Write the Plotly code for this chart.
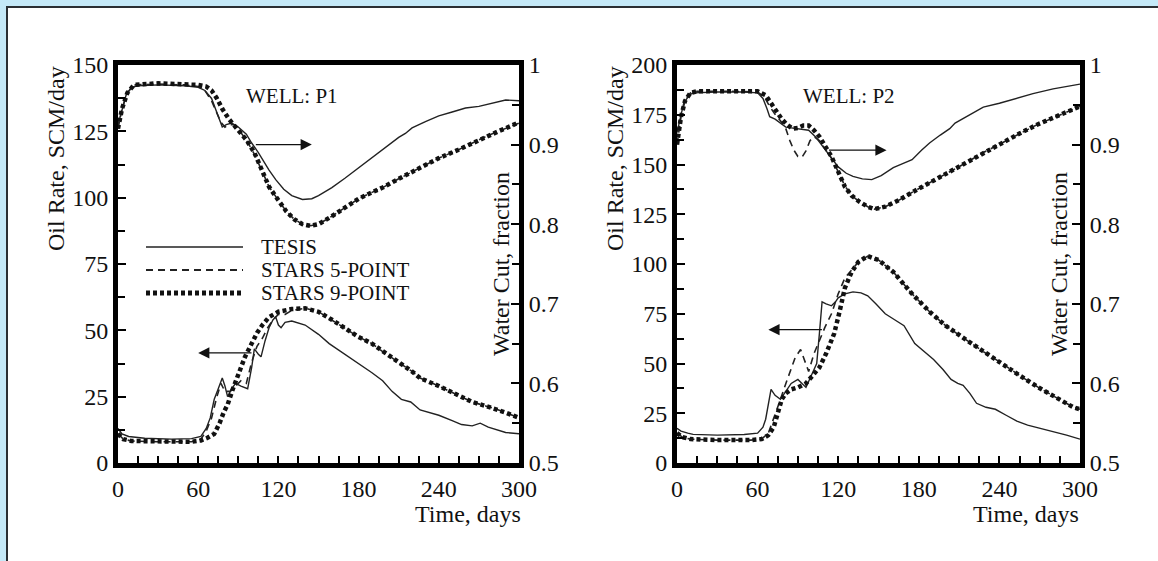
import plotly.graph_objects as go

W, H = 1158, 561

# ---------------- data ----------------
# Well P1 - water cut (right axis)
p1_wc_tesis_t = [0, 3, 6, 10, 15, 30, 50, 60, 65, 70, 73, 76, 78, 81, 85, 90, 96, 100, 105, 113, 118, 124, 130, 138, 145, 150, 160, 170, 180, 190, 200, 210, 215, 220, 230, 240, 250, 260, 270, 280, 290, 300]
p1_wc_tesis = [0.925, 0.945, 0.962, 0.972, 0.974, 0.975, 0.974, 0.972, 0.968, 0.958, 0.945, 0.93, 0.922, 0.925, 0.927, 0.922, 0.913, 0.902, 0.89, 0.868, 0.856, 0.844, 0.836, 0.831, 0.832, 0.836, 0.846, 0.858, 0.871, 0.884, 0.896, 0.909, 0.914, 0.921, 0.929, 0.936, 0.941, 0.946, 0.948, 0.952, 0.956, 0.955]
p1_wc_s5_t = [0, 3, 7, 12, 30, 50, 60, 65, 70, 74, 77, 80, 83, 87, 92, 97, 102, 108, 113, 120, 126, 132, 138, 144, 150, 160, 170, 180, 190, 198, 210, 220, 230, 240, 254, 265, 275, 285, 292, 300]
p1_wc_s5 = [0.92, 0.945, 0.965, 0.975, 0.976, 0.975, 0.973, 0.968, 0.955, 0.94, 0.928, 0.922, 0.925, 0.925, 0.915, 0.903, 0.888, 0.866, 0.847, 0.83, 0.816, 0.806, 0.8, 0.798, 0.8, 0.81, 0.821, 0.832, 0.84, 0.846, 0.857, 0.866, 0.875, 0.883, 0.893, 0.902, 0.91, 0.917, 0.922, 0.927]
p1_wc_s9_t = [0, 3, 7, 12, 30, 50, 60, 66, 70, 74, 78, 83, 90, 96, 102, 108, 113, 120, 126, 132, 138, 144, 150, 160, 170, 180, 190, 198, 210, 220, 230, 240, 254, 265, 275, 285, 292, 300]
p1_wc_s9 = [0.92, 0.945, 0.965, 0.975, 0.977, 0.976, 0.975, 0.973, 0.968, 0.958, 0.945, 0.932, 0.918, 0.906, 0.89, 0.868, 0.847, 0.83, 0.816, 0.806, 0.8, 0.798, 0.8, 0.81, 0.821, 0.832, 0.84, 0.846, 0.857, 0.866, 0.875, 0.883, 0.893, 0.902, 0.91, 0.917, 0.922, 0.928]

# Well P1 - oil rate (left axis)
p1_oil_tesis_t = [0, 3, 8, 20, 40, 55, 62, 66, 69, 72, 75, 78, 80, 82, 85, 88, 92, 97, 100, 102, 105, 107, 110, 113, 116, 118, 120, 122, 125, 130, 140, 150, 158, 170, 181, 190, 198, 205, 212, 219, 226, 233, 240, 250, 257, 265, 271, 277, 283, 290, 300]
p1_oil_tesis = [13, 11, 10, 9.3, 9, 9.2, 10, 13, 17, 24, 28, 32, 29, 25, 28, 30, 29, 28, 36, 43, 41, 40, 46, 51, 54, 55, 52, 51, 53, 53.5, 52, 48.5, 45, 41, 37, 34, 31, 27, 24, 23, 20, 19, 18, 16, 14.5, 14, 15, 13.5, 12.5, 11.5, 11]
p1_oil_s5_t = [0, 4, 10, 30, 55, 62, 66, 70, 74, 77, 80, 84, 88, 92, 96, 100, 104, 108, 112, 116, 120, 125, 130, 140, 150, 160, 169, 180, 190, 198, 210, 220, 226, 240, 254, 265, 275, 282, 290, 300]
p1_oil_s5 = [11, 9, 8.3, 8, 8, 9, 12, 17, 25, 30, 27, 27, 29, 31, 30, 38, 44, 47, 51, 54, 56, 56, 57.5, 58.3, 57, 54, 51, 47.5, 45, 42, 38, 34.5, 32, 29, 25.6, 23, 21.5, 20.5, 19, 17]
p1_oil_s9_t = [0, 4, 10, 30, 55, 62, 67, 72, 76, 79, 82, 86, 90, 95, 100, 104, 108, 113, 120, 130, 140, 150, 160, 169, 180, 190, 198, 210, 220, 226, 240, 254, 265, 275, 282, 290, 300]
p1_oil_s9 = [11, 9, 8.3, 8, 8, 8.5, 9.5, 11, 15, 19, 22, 28, 33, 40, 45, 49, 52, 55, 57, 58, 58.3, 57, 54, 51, 47.5, 45, 42, 38, 34.5, 32, 29, 25.6, 23, 21.5, 20.5, 19, 17]

# Well P2 - water cut (right axis)
p2_wc_tesis_t = [0, 2, 5, 9, 12, 30, 50, 60, 64, 67, 69, 73, 77, 81, 85, 90, 95, 98, 103, 109, 115, 120, 126, 131, 138, 145, 152, 161, 168, 175, 182, 188, 196, 203, 207, 215, 220, 228, 240, 255, 265, 280, 290, 300]
p2_wc_tesis = [0.915, 0.93, 0.952, 0.962, 0.965, 0.966, 0.966, 0.965, 0.958, 0.945, 0.935, 0.932, 0.927, 0.922, 0.921, 0.92, 0.919, 0.918, 0.91, 0.897, 0.883, 0.872, 0.864, 0.86, 0.857, 0.856, 0.861, 0.871, 0.876, 0.881, 0.893, 0.902, 0.912, 0.92, 0.927, 0.935, 0.94, 0.947, 0.952, 0.959, 0.964, 0.97, 0.973, 0.976]
p2_wc_s5_t = [0, 3, 6, 10, 15, 40, 60, 65, 69, 73, 77, 81, 84, 87, 90, 93, 96, 99, 102, 106, 110, 115, 120, 125, 130, 136, 142, 147, 155, 165, 175, 188, 202, 215, 228, 242, 255, 268, 282, 295, 300]
p2_wc_s5 = [0.9, 0.935, 0.955, 0.965, 0.967, 0.967, 0.966, 0.96, 0.948, 0.938, 0.93, 0.92, 0.905, 0.893, 0.885, 0.884, 0.892, 0.905, 0.91, 0.905, 0.895, 0.883, 0.866, 0.848, 0.836, 0.828, 0.822, 0.819, 0.822, 0.83, 0.84, 0.852, 0.865, 0.877, 0.89, 0.902, 0.914, 0.925, 0.935, 0.945, 0.948]
p2_wc_s9_t = [0, 3, 6, 10, 15, 40, 60, 66, 70, 74, 78, 82, 86, 90, 94, 98, 102, 106, 110, 115, 120, 125, 130, 136, 142, 147, 155, 165, 175, 188, 202, 215, 228, 242, 255, 268, 282, 295, 300]
p2_wc_s9 = [0.9, 0.935, 0.955, 0.965, 0.967, 0.967, 0.967, 0.962, 0.952, 0.943, 0.932, 0.925, 0.92, 0.921, 0.924, 0.924, 0.918, 0.91, 0.898, 0.885, 0.866, 0.847, 0.836, 0.828, 0.822, 0.819, 0.822, 0.83, 0.84, 0.852, 0.865, 0.877, 0.89, 0.902, 0.914, 0.925, 0.935, 0.945, 0.948]

# Well P2 - oil rate (left axis)
p2_oil_tesis_t = [0, 3, 8, 12, 30, 50, 60, 64, 66, 68, 70, 73, 77, 81, 85, 90, 93, 96, 100, 104, 106, 108, 111, 115, 118, 120, 125, 131, 137, 142, 148, 155, 162, 169, 177, 184, 191, 198, 204, 209, 213, 218, 223, 230, 237, 245, 253, 261, 270, 280, 290, 300]
p2_oil_tesis = [17.4, 16, 15, 14.4, 14, 14.3, 15, 18, 22, 30, 37, 34, 32, 36, 40, 42, 40, 38, 44, 50, 65, 81, 80, 79, 81, 83, 85, 86, 85.5, 84, 80, 75, 72, 69, 60, 56, 52, 47, 42, 40, 39, 35, 30, 28, 27, 24, 21, 19, 17.5, 16, 14, 12]
p2_oil_s5_t = [0, 4, 10, 30, 55, 63, 68, 72, 76, 80, 84, 88, 92, 95, 98, 102, 106, 110, 115, 120, 125, 130, 135, 142, 150, 161, 175, 188, 200, 215, 228, 242, 255, 269, 282, 295, 300]
p2_oil_s5 = [15, 13, 12, 11.5, 11.5, 12, 15, 22, 30, 38, 46, 53, 57, 52, 46, 55, 62, 68, 75, 85, 93, 97, 101, 104, 102, 96, 85, 76, 69, 62, 56, 50, 44, 38, 33, 28, 27]
p2_oil_s9_t = [0, 4, 10, 30, 55, 63, 68, 72, 75, 78, 81, 85, 90, 96, 101, 106, 111, 117, 121, 125, 130, 135, 142, 150, 161, 175, 188, 200, 215, 228, 242, 255, 269, 282, 295, 300]
p2_oil_s9 = [15, 13, 12, 11.5, 11.5, 12, 14, 18, 25, 32, 35, 37, 38, 40, 44, 48, 55, 65, 76, 88, 96, 101, 104, 102, 96, 85, 76, 69, 62, 56, 50, 44, 38, 33, 28, 27]

series_names = ["TESIS", "STARS 5-POINT", "STARS 9-POINT"]
well_labels = ["WELL: P1", "WELL: P2"]
x_ticks = [0, 60, 120, 180, 240, 300]
oil_ranges = [[0, 150], [0, 200]]
wc_range = [0.5, 1.0]

# ---------------- styling ----------------
FONT = "Liberation Serif"
INK = "#111111"
styles = [
    dict(color="#222222", width=1.4, dash="solid"),
    dict(color="#222222", width=1.6, dash="7px,5px"),
    dict(color="#111111", width=4.5, dash="4px,3px"),
]

def px_x(p):
    return p / W

def px_y(p):
    return 1 - p / H

# plot-area geometry in pixels
X_DOM = [(118, 519), (677, 1080)]
Y_TOP, Y_BOT = 65, 463

fig = go.Figure()

panels = [
    dict(oil=[(p1_oil_tesis_t, p1_oil_tesis), (p1_oil_s5_t, p1_oil_s5), (p1_oil_s9_t, p1_oil_s9)],
         wc=[(p1_wc_tesis_t, p1_wc_tesis), (p1_wc_s5_t, p1_wc_s5), (p1_wc_s9_t, p1_wc_s9)]),
    dict(oil=[(p2_oil_tesis_t, p2_oil_tesis), (p2_oil_s5_t, p2_oil_s5), (p2_oil_s9_t, p2_oil_s9)],
         wc=[(p2_wc_tesis_t, p2_wc_tesis), (p2_wc_s5_t, p2_wc_s5), (p2_wc_s9_t, p2_wc_s9)]),
]

axis_ids = [("x", "y", "y2"), ("x2", "y3", "y4")]

for i, pan in enumerate(panels):
    xa, ya, yb = axis_ids[i]
    for k, (t, v) in enumerate(pan["oil"]):
        fig.add_trace(go.Scatter(x=t, y=v, mode="lines", name=series_names[k], showlegend=False,
                                 line=styles[k], xaxis=xa, yaxis=ya, hoverinfo="skip"))
    for k, (t, v) in enumerate(pan["wc"]):
        fig.add_trace(go.Scatter(x=t, y=v, mode="lines", name=series_names[k], showlegend=False,
                                 line=styles[k], xaxis=xa, yaxis=yb, hoverinfo="skip"))

tickfont = dict(family=FONT, size=24, color=INK)
common_line = dict(showline=True, linewidth=5, linecolor="black", showgrid=False, zeroline=False,
                   automargin=False)

layout_axes = {}
for i in range(2):
    xd = [px_x(X_DOM[i][0]), px_x(X_DOM[i][1])]
    yd = [px_y(Y_BOT), px_y(Y_TOP)]
    xname = "xaxis" if i == 0 else "xaxis2"
    yname = "yaxis" if i == 0 else "yaxis3"
    y2name = "yaxis2" if i == 0 else "yaxis4"
    yref = "y" if i == 0 else "y3"
    xref = "x" if i == 0 else "x2"
    layout_axes[xname] = dict(domain=xd, range=[0, 300], anchor=yref, mirror=True,
                              tickvals=x_ticks, ticks="inside", ticklen=7, tickwidth=2, tickcolor="black",
                              minor=dict(dtick=15, tick0=0, ticks="inside", ticklen=7, tickwidth=2, tickcolor="black"),
                              tickfont=tickfont, ticklabelstandoff=0, **common_line)
    layout_axes[yname] = dict(domain=yd, range=oil_ranges[i], anchor=xref, mirror=True,
                              dtick=25, tick0=0, ticks="inside", ticklen=8, tickwidth=2, tickcolor="black",
                              minor=dict(dtick=12.5, tick0=0, ticks="inside", ticklen=7, tickwidth=2, tickcolor="black"),
                              tickfont=tickfont, ticklabelstandoff=0, **common_line)
    layout_axes[y2name] = dict(range=wc_range, overlaying=yref, side="right", anchor=xref,
                               dtick=0.1, tick0=0.5, ticks="inside", ticklen=8, tickwidth=2, tickcolor="black",
                               minor=dict(dtick=0.05, tick0=0.5, ticks="inside", ticklen=7, tickwidth=2, tickcolor="black"),
                               tickfont=tickfont, ticklabelstandoff=0, **common_line)

annotations = []
shapes = []

# background frame (light blue page, white card with dark edge)
shapes.append(dict(type="rect", xref="paper", yref="paper", x0=px_x(7), x1=1.2, y0=-0.2, y1=px_y(7),
                   fillcolor="white", line=dict(color="#2b2f33", width=2), layer="below"))

title_font = dict(family=FONT, size=24, color=INK)
# axis titles as annotations
oil_title_x = [56, 615]
wc_title_x = [501, 1059]
time_title_right = [523, 1081]
for i in range(2):
    annotations.append(dict(text="Oil Rate, SCM/day", xref="paper", yref="paper", x=px_x(oil_title_x[i]), y=px_y(159),
                            textangle=-90, showarrow=False, font=title_font, xanchor="center", yanchor="middle"))
    annotations.append(dict(text="Water Cut, fraction", xref="paper", yref="paper", x=px_x(wc_title_x[i]), y=px_y(264),
                            textangle=-90, showarrow=False, font=title_font, xanchor="center", yanchor="middle"))
    annotations.append(dict(text="Time, days", xref="paper", yref="paper", x=px_x(time_title_right[i]), y=px_y(514),
                            showarrow=False, font=title_font, xanchor="right", yanchor="middle"))

# well labels
well_x = [292, 849]
for i in range(2):
    annotations.append(dict(text=well_labels[i], xref="paper", yref="paper", x=px_x(well_x[i]), y=px_y(96),
                            showarrow=False, font=dict(family=FONT, size=21, color=INK), xanchor="center", yanchor="middle"))

# arrows (pointing to the axis each curve group belongs to)
arrow_specs = [
    # (xref, yref, tail_x, head_x, y)
    ("x", "y2", 102, 145, 0.9),
    ("x", "y", 101, 60, 41.5),
    ("x2", "y4", 112, 156, 0.893),
    ("x2", "y3", 109, 68, 67),
]
for xr, yr, tx, hx, yy in arrow_specs:
    annotations.append(dict(xref=xr, yref=yr, x=hx, y=yy, axref=xr, ayref=yr, ax=tx, ay=yy,
                            text="", showarrow=True, arrowhead=2, arrowsize=1.6, arrowwidth=1.4, arrowcolor=INK))

# legend (left panel)
leg_y = [247, 270, 293]
for k in range(3):
    shapes.append(dict(type="line", xref="paper", yref="paper", x0=px_x(146), x1=px_x(243),
                       y0=px_y(leg_y[k]), y1=px_y(leg_y[k]),
                       line=dict(color=styles[k]["color"], width=styles[k]["width"] + (0.6 if k == 2 else 0.3),
                                 dash=styles[k]["dash"])))
    annotations.append(dict(text=series_names[k], xref="paper", yref="paper", x=px_x(259), y=px_y(leg_y[k]),
                            showarrow=False, font=dict(family=FONT, size=21, color=INK), xanchor="left", yanchor="middle"))

fig.update_layout(
    width=W, height=H,
    margin=dict(l=0, r=0, t=0, b=0, pad=0, autoexpand=False),
    paper_bgcolor="#c5e9f8",
    plot_bgcolor="rgba(0,0,0,0)",
    showlegend=False,
    annotations=annotations,
    shapes=shapes,
    **layout_axes,
)

fig.write_html("out.html",
               config={"displayModeBar": False},
               post_script="document.body.style.margin='0';document.body.style.padding='0';"
                           "document.body.style.overflow='hidden';")
